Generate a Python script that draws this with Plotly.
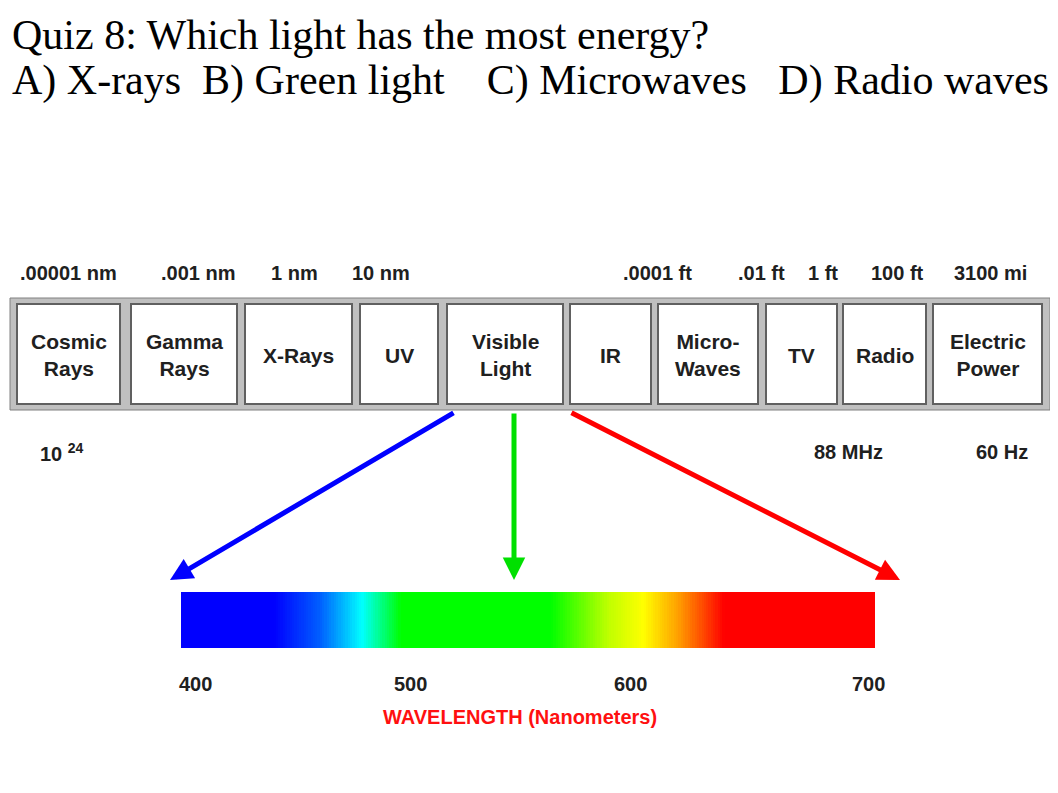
import plotly.graph_objects as go
import numpy as np

# band boxes (name, left, right) in pixel space
band_names = ["Cosmic<br>Rays", "Gamma<br>Rays", "X-Rays", "UV", "Visible<br>Light", "IR",
              "Micro-<br>Waves", "TV", "Radio", "Electric<br>Power"]
band_left = [17, 131, 245, 360, 447, 570, 658, 766, 843, 933]
band_right = [120, 237, 352, 438, 563, 651, 758, 837, 926, 1042]

top_labels = [".00001 nm", ".001 nm", "1 nm", "10 nm", ".0001 ft", ".01 ft", "1 ft", "100 ft", "3100 mi"]
top_x = [68, 198, 294, 381, 657, 761, 823, 897, 990]

bottom_labels = ["10 <sup>24</sup>", "88 MHz", "60 Hz"]
bottom_x = [62, 848, 1002]

# spectrum colours by wavelength (nm)
wl_stops = [400, 440, 460, 478, 495, 560, 585, 600, 615, 635, 700]
wl_colors = ["#0000ff", "#0000ff", "#0060ff", "#00ffff", "#00ff00", "#00ff00",
             "#c0ff00", "#ffff00", "#ffa000", "#ff0000", "#ff0000"]
tick_wl = ["400", "500", "600", "700"]
tick_x = [195, 410, 630, 868]

fig = go.Figure()

bar_l, bar_r = 181, 875
wl = np.linspace(400, 700, 300)
edges = bar_l + np.linspace(0, 1, 301) * (bar_r - bar_l)
cs = [[(w - 400) / 300, c] for w, c in zip(wl_stops, wl_colors)]
fig.add_trace(go.Heatmap(x=edges, y=[592, 648], z=[wl], colorscale=cs,
                         zmin=400, zmax=700, showscale=False, hoverinfo="skip"))

shapes = [dict(type="rect", x0=10, x1=1050, y0=298, y1=410, fillcolor="#c0c0c0",
               line=dict(color="#808080", width=1), layer="below")]
for l, r in zip(band_left, band_right):
    shapes.append(dict(type="rect", x0=l, x1=r, y0=304, y1=404, fillcolor="white",
                       line=dict(color="#606060", width=2)))
fig.update_layout(shapes=shapes)

lab_font = dict(family="Liberation Sans", size=20, color="#202020")
for name, l, r in zip(band_names, band_left, band_right):
    fig.add_annotation(x=(l + r) / 2, y=355, text="<b>" + name + "</b>", showarrow=False,
                       font=dict(family="Liberation Sans", size=21, color="#202020"))
for t, x in zip(top_labels, top_x):
    fig.add_annotation(x=x, y=273, text="<b>" + t + "</b>", showarrow=False, font=lab_font)
for t, x in zip(bottom_labels, bottom_x):
    fig.add_annotation(x=x, y=452, text="<b>" + t + "</b>", showarrow=False, font=lab_font)
for t, x in zip(tick_wl, tick_x):
    fig.add_annotation(x=x, y=684, text="<b>" + t + "</b>", showarrow=False, font=lab_font)
fig.add_annotation(x=520, y=717, text="<b>WAVELENGTH (Nanometers)</b>", showarrow=False,
                   font=dict(family="Liberation Sans", size=20, color="#ff1010"))

# arrows
for (x0, y0, x1, y1, c) in [(455, 412, 170, 580, "#0000ff"), (514, 412, 514, 580, "#00e000"),
                            (570, 412, 900, 580, "#ff0000")]:
    fig.add_annotation(x=x1, y=y1, ax=x0, ay=y0, xref="x", yref="y", axref="x", ayref="y",
                       text="", showarrow=True, arrowhead=2, arrowsize=0.9,
                       arrowwidth=5, arrowcolor=c)

title_font = dict(family="Liberation Serif", size=42, color="black")
fig.add_annotation(x=10, y=35, xanchor="left", showarrow=False,
                   text="Quiz 8: Which light has the most energy?", font=title_font)
fig.add_annotation(x=10, y=80, xanchor="left", showarrow=False,
                   text="A) X-rays  B) Green light    C) Microwaves   D) Radio waves", font=title_font)

# page has an 8px body margin, so shift the axis window to keep pixel coordinates
fig.update_layout(width=1058, height=793, margin=dict(l=0, r=0, t=0, b=0),
                  plot_bgcolor="white", paper_bgcolor="white",
                  xaxis=dict(range=[8, 1066], visible=False, fixedrange=True),
                  yaxis=dict(range=[801, 8], visible=False, fixedrange=True))
fig.write_html("out.html")
